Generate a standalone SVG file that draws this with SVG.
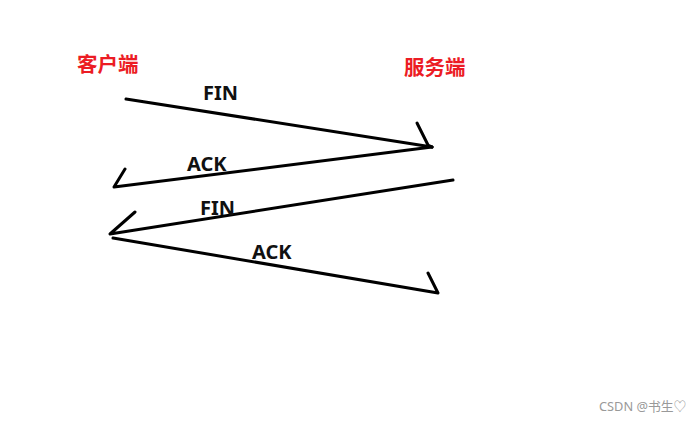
<svg xmlns="http://www.w3.org/2000/svg" width="700" height="421" viewBox="0 0 700 421">
<style>
.ln{fill:none;stroke:#000;stroke-width:3;stroke-linecap:round;stroke-linejoin:round}
.lbl{font-family:"Noto Sans","Noto Sans CJK SC",sans-serif;font-weight:bold;font-size:20px;fill:#111}
.side{font-family:"Noto Sans CJK SC","Noto Sans",sans-serif;font-weight:bold;font-size:20.5px;fill:#ec1c24}
.wm{font-family:"Noto Sans","Noto Sans CJK SC",sans-serif;font-size:12.8px;fill:#999}
</style>
<rect width="700" height="421" fill="#fff"/>
<g id="client"><text class="side" x="77" y="72">客户端</text></g>
<g id="server"><text class="side" x="404" y="75">服务端</text></g>
<g id="connectors">
<g id="fin1"><polyline class="ln" points="126,99 432,147"/><polyline class="ln" points="417,123 428,145 432,147"/><text class="lbl" x="203" y="100">FIN</text></g>
<g id="ack1"><polyline class="ln" points="432,147 114,187 125,169"/><text class="lbl" x="187" y="171">ACK</text></g>
<g id="fin2"><polyline class="ln" points="453,180 110,234 135,212"/><text class="lbl" x="200" y="215">FIN</text></g>
<g id="ack2"><polyline class="ln" points="113,238 438,293 428,273"/><text class="lbl" x="252" y="259">ACK</text></g>
</g>
<text class="wm" x="599" y="411">CSDN @书生♡</text>
</svg>
